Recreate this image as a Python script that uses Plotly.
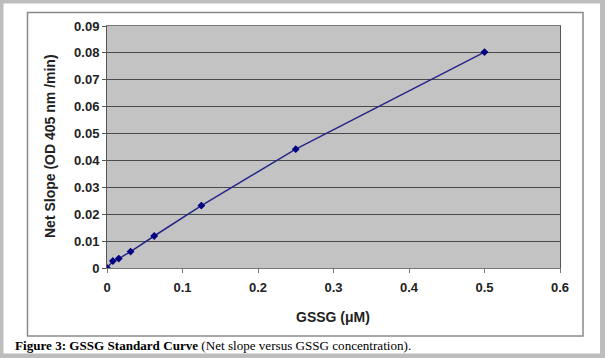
import plotly.graph_objects as go

gssg_uM = [0, 0.0078, 0.0156, 0.03125, 0.0625, 0.125, 0.25, 0.5]
net_slope = [0.0, 0.0026, 0.0035, 0.0061, 0.0119, 0.0232, 0.0442, 0.0803]
x_ticks = [0, 0.1, 0.2, 0.3, 0.4, 0.5, 0.6]
y_ticks = [0, 0.01, 0.02, 0.03, 0.04, 0.05, 0.06, 0.07, 0.08, 0.09]

W, H = 605, 358
L, R, T, B = 107, 45, 26, 90
pw, ph = W - L - R, H - T - B

def px(x):
    return (x - L) / pw

def py(y):
    return (H - B - y) / ph

fig = go.Figure()
fig.add_trace(go.Scatter(
    x=gssg_uM, y=net_slope, mode="lines+markers",
    line=dict(color="#26268a", width=1.5),
    marker=dict(symbol="diamond", size=6, color="#000080"),
    showlegend=False,
))

axis_font = dict(family="Arial, Liberation Sans, sans-serif", size=13, color="#222222")
title_font = dict(family="Arial, Liberation Sans, sans-serif", size=14, color="#222222")
fig.update_layout(
    width=W, height=H,
    margin=dict(l=L, r=R, t=T, b=B),
    paper_bgcolor="white",
    plot_bgcolor="#c3c3c3",
    xaxis=dict(range=[0, 0.6], tickvals=x_ticks, ticktext=[f"<b>{v:g}</b>" for v in x_ticks],
               showgrid=False, zeroline=False, showline=True, linecolor="#777777",
               linewidth=1, mirror=True, ticks="outside", ticklen=4, tickcolor="#777777",
               tickfont=axis_font, fixedrange=True, ticklabelstandoff=3),
    yaxis=dict(range=[0, 0.09], tickvals=y_ticks, ticktext=[f"<b>{v:g}</b>" for v in y_ticks],
               showgrid=True, gridcolor="#4a4a4a", gridwidth=1, zeroline=False,
               showline=True, linecolor="#555555", linewidth=1, mirror=True,
               ticks="outside", ticklen=4, tickcolor="#555555",
               tickfont=axis_font, fixedrange=True),
    font=axis_font,
)

# axis titles
fig.add_annotation(text="<b>GSSG (μM)</b>", xref="paper", yref="paper",
                   x=px(333), y=py(317), xanchor="center", yanchor="middle", showarrow=False,
                   font=title_font)
fig.add_annotation(text="<b>Net Slope (OD 405 nm /min)</b>", xref="paper", yref="paper",
                   x=px(50), y=py(146), xanchor="center", yanchor="middle",
                   showarrow=False, textangle=-90, font=title_font)

# caption
fig.add_annotation(text="<b>Figure 3: GSSG Standard Curve</b> (Net slope versus GSSG concentration).",
                   xref="paper", yref="paper", x=px(13), y=py(345.5), xanchor="left",
                   yanchor="middle", showarrow=False,
                   font=dict(family="Liberation Serif, Times New Roman, serif", size=13.1, color="#000000"))

# chart box border
fig.add_shape(type="rect", xref="paper", yref="paper",
              x0=px(27.5), x1=px(583), y0=py(336), y1=py(12.5),
              line=dict(color="#8a8a8a", width=1.5), fillcolor="rgba(0,0,0,0)", layer="above")
# outer grey frame
fig.add_shape(type="rect", xref="paper", yref="paper",
              x0=px(1), x1=px(W - 2.5), y0=py(H - 2), y1=py(1),
              line=dict(color="#bdbdbd", width=5), fillcolor="rgba(0,0,0,0)", layer="above")

fig.write_html("out.html", config={"displayModeBar": False},
               post_script="document.body.style.margin='0';document.body.style.overflow='hidden';")
